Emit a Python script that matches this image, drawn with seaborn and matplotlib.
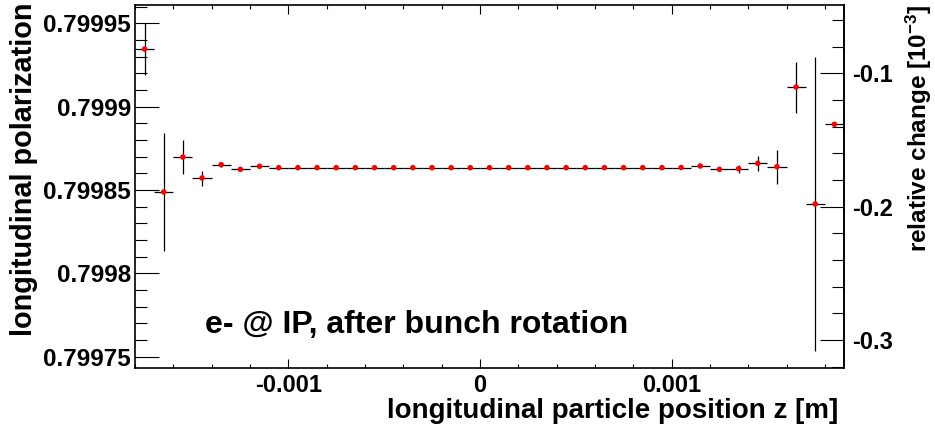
import numpy as np
import pandas as pd
import matplotlib
matplotlib.use("Agg")
import matplotlib.pyplot as plt
import seaborn as sns
from matplotlib.ticker import MultipleLocator, FixedLocator, FuncFormatter

# Bin centres of the longitudinal position z [m] (bin width 1e-4 m)
z_centers = [
    -0.00175, -0.00165, -0.00155, -0.00145, -0.00135, -0.00125, -0.00115,
    -0.00105, -0.00095, -0.00085, -0.00075, -0.00065, -0.00055, -0.00045,
    -0.00035, -0.00025, -0.00015, -0.00005, 0.00005, 0.00015, 0.00025,
    0.00035, 0.00045, 0.00055, 0.00065, 0.00075, 0.00085, 0.00095,
    0.00105, 0.00115, 0.00125, 0.00135, 0.00145, 0.00155, 0.00165,
    0.00175, 0.00185,
]

# Mean longitudinal polarization per bin
polarization = [
    0.7999346, 0.7998488, 0.7998698, 0.7998572, 0.7998652, 0.7998624, 0.7998642,
    0.7998634, 0.7998634, 0.7998634, 0.7998634, 0.7998634, 0.7998634, 0.7998634,
    0.7998634, 0.7998634, 0.7998634, 0.7998634, 0.7998634, 0.7998634, 0.7998634,
    0.7998634, 0.7998634, 0.7998634, 0.7998634, 0.7998634, 0.7998634, 0.7998634,
    0.7998635, 0.7998644, 0.7998624, 0.7998628, 0.7998660, 0.7998640, 0.7999118,
    0.7998416, 0.7998894,
]

# Statistical uncertainty of the polarization per bin
pol_error = [
    1.57e-5, 3.55e-5, 1.03e-5, 4.5e-6, 1.6e-6, 6e-7, 4e-7,
    3e-7, 3e-7, 3e-7, 3e-7, 3e-7, 3e-7, 3e-7,
    3e-7, 3e-7, 3e-7, 3e-7, 3e-7, 3e-7, 3e-7,
    3e-7, 3e-7, 3e-7, 3e-7, 3e-7, 3e-7, 3e-7,
    3e-7, 5e-7, 8e-7, 2.3e-6, 4.4e-6, 1.02e-5, 1.53e-5,
    8.82e-5, 1.0e-6,
]

# Tick values of the relative-change axis [1e-3]
rel_major_ticks = [-0.3, -0.2, -0.1]
rel_minor_ticks = [-0.32, -0.28, -0.26, -0.24, -0.22, -0.18, -0.16, -0.14,
                   -0.12, -0.08, -0.06]

bin_half_width = 0.00005
p_reference = 0.8

sns.set_style("white")
plt.rcParams["font.family"] = ["Liberation Sans", "DejaVu Sans"]
plt.rcParams["font.weight"] = "bold"
plt.rcParams["text.color"] = "black"
plt.rcParams["axes.labelcolor"] = "black"
plt.rcParams["xtick.color"] = "black"
plt.rcParams["ytick.color"] = "black"
plt.rcParams["mathtext.fontset"] = "custom"
plt.rcParams["mathtext.rm"] = "Liberation Sans:bold"
plt.rcParams["mathtext.it"] = "Liberation Sans:bold:italic"
plt.rcParams["mathtext.bf"] = "Liberation Sans:bold"
plt.rcParams["axes.unicode_minus"] = False

W, H = 935, 433
fig = plt.figure(figsize=(W / 100, H / 100), dpi=100)
left, right, top, bottom = 135, 844, 5, 368
ax = fig.add_axes([left / W, 1 - bottom / H, (right - left) / W, (bottom - top) / H])

df = pd.DataFrame({"z": z_centers, "P": polarization, "err": pol_error})

ax.errorbar(df["z"], df["P"], xerr=bin_half_width, yerr=df["err"], fmt="none",
            ecolor="black", elinewidth=0.9, capsize=0, zorder=2)
sns.scatterplot(data=df, x="z", y="P", color="red", s=16, edgecolor="none",
                marker="o", ax=ax, zorder=3, legend=False)

ax.set_xlim(-0.0018, 0.0019)
ax.set_ylim(0.7997432, 0.799961)
ax.set_xlabel("")
ax.set_ylabel("")

def fmt(v, pos):
    v = round(v, 8) + 0.0
    return f"{v:g}"

ax.xaxis.set_major_locator(MultipleLocator(0.001))
ax.xaxis.set_minor_locator(MultipleLocator(0.0002))
ax.yaxis.set_major_locator(MultipleLocator(0.00005))
ax.yaxis.set_minor_locator(MultipleLocator(0.00001))
ax.xaxis.set_major_formatter(FuncFormatter(fmt))
ax.yaxis.set_major_formatter(FuncFormatter(fmt))
ax.xaxis.get_offset_text().set_visible(False)
ax.yaxis.get_offset_text().set_visible(False)

ax.tick_params(axis="x", which="both", direction="in", top=True, bottom=True,
               width=0.8, labelsize=17, pad=4)
ax.tick_params(axis="x", which="major", length=6.5)
ax.tick_params(axis="x", which="minor", length=3.2)
ax.tick_params(axis="y", which="both", direction="in", left=True, right=False,
               width=0.8, labelsize=17.5, pad=3)
ax.tick_params(axis="y", which="major", length=17)
ax.tick_params(axis="y", which="minor", length=8.6)

for s in ax.spines.values():
    s.set_linewidth(1.2)
    s.set_color("black")

# Relative change of the polarization with respect to P = 0.8, in units of 1e-3
def to_rel(p):
    return (np.asarray(p) / p_reference - 1.0) * 1e3

def from_rel(r):
    return (np.asarray(r) * 1e-3 + 1.0) * p_reference

sec = ax.secondary_yaxis("right", functions=(to_rel, from_rel))
sec.yaxis.set_major_locator(FixedLocator(rel_major_ticks))
sec.yaxis.set_minor_locator(FixedLocator(rel_minor_ticks))
sec.yaxis.set_major_formatter(FuncFormatter(fmt))
sec.yaxis.get_offset_text().set_visible(False)
sec.tick_params(which="both", direction="in", width=0.8, labelsize=17, pad=6)
sec.tick_params(which="major", length=17)
sec.tick_params(which="minor", length=8.6)
sec.spines["right"].set_linewidth(1.2)
sec.spines["right"].set_color("black")

fig.text(10 / W, 1 - 3 / H, "longitudinal polarization", rotation=90,
         ha="left", va="top", fontsize=20.8, fontweight="bold")
fig.text(904 / W, 1 - 5 / H, "relative change [10$^{-3}$]", rotation=90,
         ha="left", va="top", fontsize=17.5, fontweight="bold")
fig.text(838 / W, 1 - 418 / H, "longitudinal particle position z [m]",
         ha="right", va="baseline", fontsize=20, fontweight="bold")
fig.text(205 / W, 1 - 332.7 / H, "e- @ IP, after bunch rotation",
         ha="left", va="baseline", fontsize=23, fontweight="bold")

fig.savefig("out.png", dpi=100)
